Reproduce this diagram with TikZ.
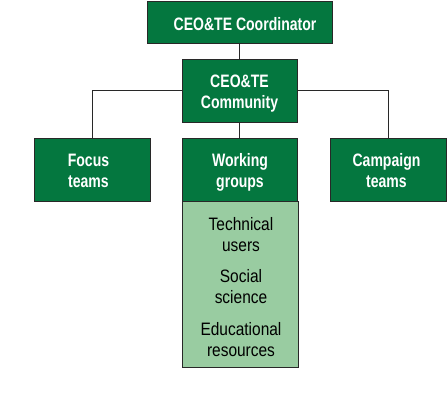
\documentclass[tikz,border=0pt]{standalone}
\usepackage{fontspec}
\setmainfont[FakeStretch=0.78]{Liberation Sans}
\newfontfamily\regfont[FakeStretch=0.86]{Liberation Sans}
\definecolor{dgreen}{RGB}{4,119,63}
\definecolor{lgreen}{RGB}{153,204,161}
\definecolor{edge}{RGB}{40,40,40}
\newcommand{\ph}{\vphantom{kg}}
\begin{document}
\begin{tikzpicture}[x=1pt,y=-1pt,
  gbox/.style={draw=edge,line width=0.8pt,fill=dgreen,inner sep=0pt},
  gtext/.style={text=white,font=\fontsize{18}{21}\selectfont\bfseries,align=center,inner sep=0pt},
  ltext/.style={font=\fontsize{18}{21}\regfont,align=center,inner sep=0pt},
  conn/.style={draw=edge,line width=0.8pt}]
\useasboundingbox[fill=white] (0,0) rectangle (448,406);
% light box
\draw[draw=edge,line width=0.8pt,fill=lgreen] (182,201) rectangle (298,367);
\node[gbox,minimum width=185pt,minimum height=42pt] (coord) at (239.5,22) {};
\node[gbox,minimum width=115pt,minimum height=63pt] (comm) at (239.5,90.5) {};
\node[gbox,minimum width=116pt,minimum height=63pt] (focus) at (92,169.5) {};
\node[gbox,minimum width=115pt,minimum height=63pt] (work) at (239.5,169.5) {};
\node[gbox,minimum width=116pt,minimum height=63pt] (camp) at (388,169.5) {};
\node[gtext] (coordt) at (245,25.4) {\ph CEO\&TE Coordinator};
\node[gtext] (commt) at (239.5,92.9) {\ph CEO\&TE\\\ph Community};
\node[gtext] (focust) at (88.5,171.9) {\ph Focus\\\ph teams};
\node[gtext] (workt) at (240,171.9) {\ph Working\\\ph groups};
\node[gtext] (campt) at (386.5,171.9) {\ph Campaign\\\ph teams};
\node[ltext] (t1) at (241,235.9) {\ph Technical\\\ph users};
\node[ltext] (t2) at (241,287.9) {\ph Social\\\ph science};
\node[ltext] (t3) at (241,341.4) {\ph Educational\\\ph resources};
\draw[conn] (coord.south) -- (comm.north);
\draw[conn] (comm.south) -- (work.north);
\draw[conn] (comm.west |- 0,90) -| (focus.north);
\draw[conn] (comm.east |- 0,90) -| (camp.north);
\end{tikzpicture}
\end{document}
